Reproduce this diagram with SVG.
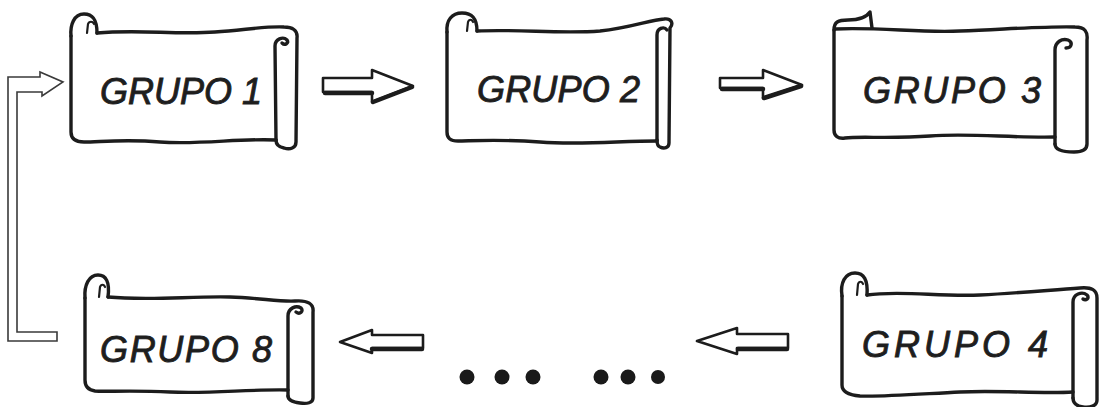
<svg xmlns="http://www.w3.org/2000/svg" width="1099" height="407" viewBox="0 0 1099 407">
  <style>
    .ink { fill: none; stroke: #1c1c1c; stroke-width: 3.4; stroke-linecap: round; stroke-linejoin: round; }
    .fine { fill: none; stroke: #1c1c1c; stroke-width: 2.2; stroke-linecap: round; stroke-linejoin: round; }
    .lbl { font-family: "Liberation Sans", Arial, sans-serif; font-style: italic; font-size: 36px; fill: #1e1e1e; stroke: #1e1e1e; stroke-width: 0.9; }
    .block { fill: #ffffff; stroke: #1c1c1c; stroke-width: 2.6; stroke-linejoin: round; }
    .shade { fill: none; stroke: #1c1c1c; stroke-width: 4.5; stroke-linecap: round; }
    .pipe { fill: #ffffff; stroke: #3a3a3a; stroke-width: 1.6; stroke-linejoin: miter; }
    .dot { fill: #1a1a1a; }
  </style>
  <rect width="1099" height="407" fill="#ffffff"/>

  <!-- scroll: GRUPO 1 -->
  <g id="grupo1">
    <path class="ink" d="M97,33 C140,29 175,35 215,32 C245,30 265,26 284,27 C292,27 298,30 297,38 L296,142 C296,148 290,150 284,148 C278,147 276,144 276,140"/>
    <path class="ink" d="M276,140 L275,46 C275,39 283,36 287,40 C289,43 285,46 282,43"/>
    <path class="ink" d="M276,140 C240,138 200,145 160,142 C125,139 100,142 84,142 C76,142 71,139 71,132 L71,36"/>
    <path class="ink" d="M71,36 C70,25 74,14 84,14 C93,14 97,20 97,33"/>
    <path class="fine" d="M87,33 L88,24 C89,21 93,21 94,24"/>
    <text class="lbl" x="100" y="104" textLength="162" lengthAdjust="spacing">GRUPO 1</text>
  </g>

  <!-- scroll: GRUPO 2 -->
  <g id="grupo2">
    <path class="ink" d="M477,31 C520,29 560,34 600,31 C630,28 650,20 664,19 C671,18 674,23 670,28 L669,143 C669,148 664,149 660,147 C657,146 657,143 657,140"/>
    <path class="ink" d="M657,140 L657,35 C657,28 664,26 667,30"/>
    <path class="ink" d="M657,141 C620,141 580,145 540,142 C500,139 470,141 458,141 C450,141 447,138 447,132 L447,32"/>
    <path class="ink" d="M447,32 C446,20 452,13 462,13 C472,13 477,18 477,31"/>
    <path class="fine" d="M467,31 L468,22 C469,19 472,19 473,22"/>
    <text class="lbl" x="477" y="102" textLength="163" lengthAdjust="spacing">GRUPO 2</text>
  </g>

  <!-- scroll: GRUPO 3 -->
  <g id="grupo3">
    <path class="ink" d="M835,29 C880,27 920,33 960,31 C1010,29 1050,26 1075,27 C1085,27 1088,32 1087,40 L1087,144 C1087,150 1082,152 1074,152 C1064,152 1055,150 1055,144"/>
    <path class="ink" d="M1055,144 L1055,50 C1055,42 1062,38 1068,40 C1073,42 1072,48 1066,48"/>
    <path class="ink" d="M1055,137 C1010,138 970,133 930,136 C890,139 860,136 845,138 C838,139 834,136 834,130 L834,30"/>
    <path class="ink" d="M834,30 C834,22 838,20 848,20 C858,20 866,18 870,12 L872,28"/>
    <text class="lbl" x="863" y="103" textLength="178" lengthAdjust="spacing">GRUPO 3</text>
  </g>

  <!-- scroll: GRUPO 4 -->
  <g id="grupo4">
    <path class="ink" d="M867,295 C900,290 940,297 980,295 C1020,293 1050,290 1080,288 C1092,287 1097,290 1097,298 L1097,400 C1097,406 1090,408 1083,407 C1076,406 1073,403 1073,398"/>
    <path class="ink" d="M1073,398 L1073,302 C1073,294 1082,291 1087,295 C1090,298 1086,301 1083,299"/>
    <path class="ink" d="M1073,392 C1040,394 1000,390 960,392 C920,394 880,397 860,396 C848,395 842,392 842,385 L842,296"/>
    <path class="ink" d="M842,296 C840,283 845,273 855,273 C864,273 868,280 867,295"/>
    <path class="fine" d="M857,295 L858,284 C859,281 862,281 863,284"/>
    <text class="lbl" x="862" y="357" textLength="186" lengthAdjust="spacing">GRUPO 4</text>
  </g>

  <!-- scroll: GRUPO 8 -->
  <g id="grupo8">
    <path class="ink" d="M108,297 C150,301 190,296 230,297 C260,298 280,302 295,301 C308,300 314,304 313,312 L313,398 C313,403 307,404 300,403 C292,402 288,400 288,396"/>
    <path class="ink" d="M288,396 L288,316 C288,308 296,305 301,308 C304,311 300,315 296,312"/>
    <path class="ink" d="M288,390 C250,389 210,394 170,392 C130,390 105,392 95,391 C88,390 85,386 85,380 L85,298"/>
    <path class="ink" d="M85,298 C84,285 89,275 98,275 C106,275 110,282 108,297"/>
    <path class="fine" d="M99,297 L100,287 C101,284 104,284 105,287"/>
    <text class="lbl" x="100" y="362" textLength="172" lengthAdjust="spacing">GRUPO 8</text>
  </g>

  <!-- connectors -->
  <g id="connectors">
    <!-- GRUPO 1 to GRUPO 2 -->
    <polygon class="block" points="323,78 372,78 372,70 413,86 372,102 372,92 323,92"/>
    <path class="shade" d="M325,93 L372,93 M373,102 L412,87"/>
    <!-- GRUPO 2 to GRUPO 3 -->
    <polygon class="block" points="720,78 763,78 763,70 802,85 763,98 763,88 720,88"/>
    <path class="shade" d="M722,89 L763,89 M764,98 L801,86"/>
    <!-- GRUPO 4 onward -->
    <polygon class="block" points="697,341 737,328 737,334 788,334 788,348 737,348 737,354"/>
    <path class="shade" d="M738,349 L787,349"/>
    <!-- into GRUPO 8 -->
    <polygon class="block" points="340,342 372,330 372,335 423,335 423,348 372,348 372,353"/>
    <path class="shade" d="M372,349 L422,349"/>
    <!-- return from GRUPO 8 to GRUPO 1 -->
    <polygon class="pipe" points="57,332 17,332 17,92 42,92 42,96 63,82 40,72 40,77 8,77 8,341 57,341"/>
    <!-- ellipsis between groups -->
    <circle class="dot" cx="467" cy="377" r="7.5"/>
    <circle class="dot" cx="502" cy="377" r="7.5"/>
    <circle class="dot" cx="533" cy="377" r="7.5"/>
    <circle class="dot" cx="601" cy="377" r="7.5"/>
    <circle class="dot" cx="628" cy="377" r="7.5"/>
    <circle class="dot" cx="658" cy="377" r="7"/>
  </g>
</svg>
